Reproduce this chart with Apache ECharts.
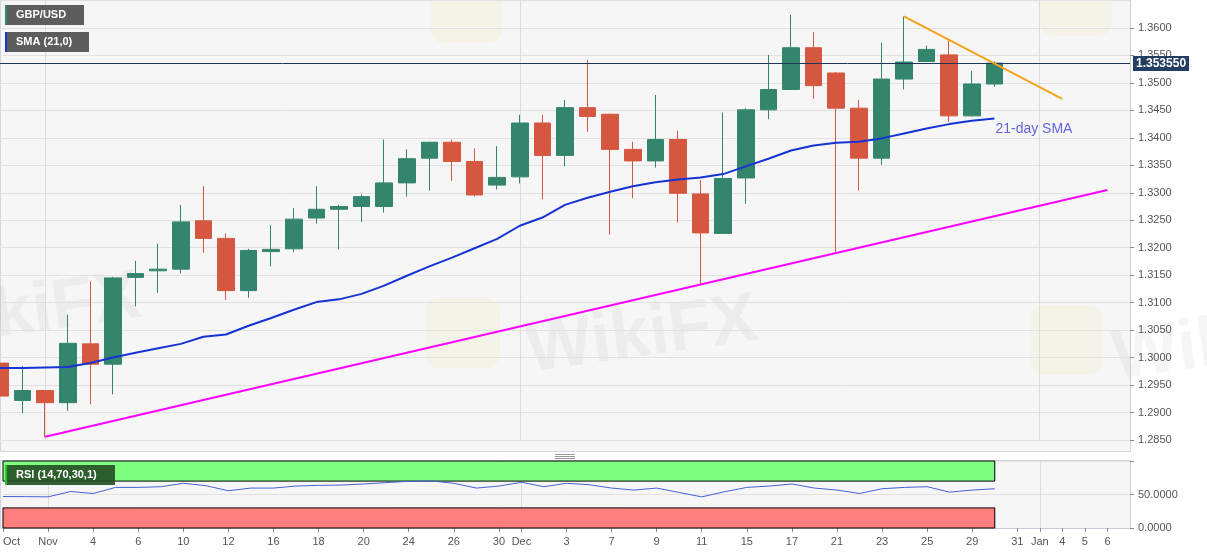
<!DOCTYPE html>
<html>
<head>
<meta charset="utf-8">
<script src="https://cdn.jsdelivr.net/npm/echarts@6/dist/echarts.min.js"></script>
<style>
html,body{margin:0;padding:0;background:#ffffff;}
#c{width:1207px;height:555px;}
</style>
</head>
<body>
<div id="c"></div>
<script>
// ---- data ----
const categories = [
  '2020-10-29','2020-10-30',
  '2020-11-02','2020-11-03','2020-11-04','2020-11-05','2020-11-06',
  '2020-11-09','2020-11-10','2020-11-11','2020-11-12','2020-11-13',
  '2020-11-16','2020-11-17','2020-11-18','2020-11-19','2020-11-20',
  '2020-11-23','2020-11-24','2020-11-25','2020-11-26','2020-11-27',
  '2020-11-30','2020-12-01','2020-12-02','2020-12-03','2020-12-04',
  '2020-12-07','2020-12-08','2020-12-09','2020-12-10','2020-12-11',
  '2020-12-14','2020-12-15','2020-12-16','2020-12-17','2020-12-18',
  '2020-12-21','2020-12-22','2020-12-23','2020-12-24','2020-12-25',
  '2020-12-28','2020-12-29','2020-12-30','2020-12-31',
  '2021-01-01','2021-01-04','2021-01-05','2021-01-06','2021-01-07'
];
const tickIndex = [0,2,4,6,8,10,12,14,16,18,20,22,23,25,27,29,31,33,35,37,39,41,43,45,46,47,48,49];
const tickText  = ['Oct','Nov','4','6','10','12','16','18','20','24','26','30','Dec','3','7','9','11','15','17','21','23','25','29','31','Jan','4','5','6'];
const monthStartIndex = [2, 23, 46];

const open  = [1.2990,1.2922,1.2940,1.2918,1.3025,1.2988,1.3146,1.3158,1.3161,1.3249,
               1.3217,1.3122,1.3193,1.3198,1.3254,1.3270,1.3275,1.3275,1.3318,1.3363,
               1.3392,1.3357,1.3314,1.3329,1.3427,1.3368,1.3455,1.3443,1.3379,1.3358,
               1.3397,1.3298,1.3226,1.3327,1.3451,1.3488,1.3564,1.3518,1.3454,1.3363,
               1.3507,1.3539,1.3551,1.3440,1.3498];
const close = [1.2930,1.2940,1.2918,1.3026,1.2988,1.3145,1.3153,1.3161,1.3247,1.3217,
               1.3122,1.3195,1.3197,1.3252,1.3270,1.3275,1.3293,1.3318,1.3362,1.3392,
               1.3357,1.3296,1.3328,1.3427,1.3368,1.3455,1.3439,1.3379,1.3358,1.3397,
               1.3299,1.3227,1.3326,1.3451,1.3488,1.3564,1.3495,1.3454,1.3363,1.3507,
               1.3538,1.3561,1.3440,1.3498,1.3536];
const low   = [1.2881,1.2899,1.2855,1.2903,1.2915,1.2933,1.3093,1.3118,1.3153,1.3191,
               1.3105,1.3109,1.3166,1.3192,1.3244,1.3197,1.3247,1.3264,1.3293,1.3304,
               1.3322,1.3293,1.3306,1.3317,1.3288,1.3348,1.3411,1.3224,1.3290,1.3346,
               1.3246,1.3134,1.3225,1.3280,1.3434,1.3487,1.3471,1.3190,1.3304,1.3351,
               1.3488,1.3538,1.3429,1.3439,1.3493];
const high  = [1.3027,1.2985,1.2941,1.3078,1.3139,1.3147,1.3176,1.3207,1.3278,1.3312,
               1.3226,1.3198,1.3241,1.3272,1.3312,1.3278,1.3297,1.3397,1.3379,1.3393,
               1.3397,1.3381,1.3385,1.3442,1.3442,1.3469,1.3542,1.3444,1.3393,1.3478,
               1.3413,1.3323,1.3446,1.3454,1.3551,1.3624,1.3593,1.3520,1.3469,1.3573,
               1.3621,1.3568,1.3577,1.3522,1.3539];
const sma21 = [1.2981,1.2981,1.2982,1.2983,1.2990,1.3000,1.3009,1.3017,1.3025,1.3038,
               1.3042,1.3058,1.3072,1.3087,1.3101,1.3106,1.3116,1.3131,1.3149,1.3166,
               1.3182,1.3199,1.3216,1.3240,1.3255,1.3278,1.3291,1.3302,1.3312,1.3319,
               1.3324,1.3328,1.3334,1.3348,1.3362,1.3377,1.3386,1.3391,1.3393,1.3399,
               1.3408,1.3417,1.3425,1.3431,1.3435];
const rsi14 = [47.0,46.8,46.5,54.5,51.5,60.6,60.6,61.6,66.7,63.2,
               55.6,59.6,59.6,62.6,63.6,64.1,65.7,67.7,69.7,70.2,
               66.7,59.6,62.6,68.2,61.6,66.7,64.6,59.6,56.6,59.6,
               53.0,46.5,54.0,60.6,62.6,65.7,59.6,56.6,51.5,58.6,
               60.6,61.6,53.5,56.6,58.6];
const supportIdx = [2, 49];
const supportVal = [1.2856, 1.3305];
const resistanceIdx = [40, 47];
const resistanceVal = [1.3621, 1.3471];
const lastPrice = 1.35355;
const rsiBands = [[70, 100], [0, 30]];

// ---- chart ----
const FONT = '"Liberation Sans", Arial, sans-serif';
const W = 1130;
const chart = echarts.init(document.getElementById('c'), null, {renderer: 'canvas'});

const candleData = open.map((o, i) => [o, close[i], low[i], high[i]]);
const lastIdx = close.length - 1;
const wmFont = 'bold 70px "Liberation Sans", Arial, sans-serif';
const wmColor = 'rgba(90,80,80,0.06)';
const logoColor = 'rgba(235,210,120,0.12)';

const option = {
  animation: false,
  backgroundColor: '#ffffff',
  textStyle: {fontFamily: FONT},
  grid: [
    {left: 0, top: 0.5, width: W, height: 439.5, show: false},
    {left: 0, top: 461, width: W, height: 67, show: false}
  ],
  xAxis: [
    {
      type: 'category', gridIndex: 0, data: categories, boundaryGap: false,
      axisLine: {show: false}, axisTick: {show: false}, axisLabel: {show: false},
      splitLine: {show: true, interval: (i) => monthStartIndex.includes(i), lineStyle: {color: '#dcdcdc', width: 1}}
    },
    {
      type: 'category', gridIndex: 1, data: categories, boundaryGap: false,
      axisLine: {show: true, lineStyle: {color: '#c9ccd6'}},
      axisTick: {show: true, interval: (i) => tickIndex.includes(i), length: 4, lineStyle: {color: '#8a8a8a'}},
      axisLabel: {
        show: true, interval: (i) => tickIndex.includes(i),
        formatter: (v, i) => tickText[tickIndex.indexOf(i)],
        color: '#555', fontSize: 11, margin: 8, fontFamily: FONT, alignMinLabel: 'left'
      },
      splitLine: {show: true, interval: (i) => monthStartIndex.includes(i), lineStyle: {color: '#dcdcdc', width: 1}}
    }
  ],
  yAxis: [
    {
      type: 'value', gridIndex: 0, position: 'right', min: 1.285, max: 1.365, interval: 0.005,
      axisLine: {show: true, lineStyle: {color: '#c9ccd6'}},
      axisTick: {show: true, length: 4, lineStyle: {color: '#8a8a8a'}},
      axisLabel: {formatter: (v) => v.toFixed(4), color: '#555', fontSize: 11, margin: 8, fontFamily: FONT, showMaxLabel: false},
      splitLine: {show: true, lineStyle: {color: '#e1e1e1', width: 1}}
    },
    {
      type: 'value', gridIndex: 1, position: 'right', min: 0, max: 100, interval: 50,
      axisLine: {show: true, lineStyle: {color: '#c9ccd6'}},
      axisTick: {show: true, length: 4, lineStyle: {color: '#8a8a8a'}},
      axisLabel: {formatter: (v) => (v >= 100 ? '' : v.toFixed(4)), color: '#555', fontSize: 11, margin: 8, fontFamily: FONT},
      splitLine: {show: true, lineStyle: {color: '#e1e1e1', width: 1}}
    }
  ],
  series: [
    {
      name: 'GBP/USD', type: 'candlestick', xAxisIndex: 0, yAxisIndex: 0,
      data: candleData, barWidth: 17, z: 3,
      itemStyle: {color: '#33856d', color0: '#d5573f', borderColor: '#33856d', borderColor0: '#d5573f', borderWidth: 1}
    },
    {
      name: 'SMA (21,0)', type: 'line', xAxisIndex: 0, yAxisIndex: 0,
      data: sma21, showSymbol: false, symbol: 'none', z: 4,
      lineStyle: {color: '#1433d2', width: 2},
      endLabel: {
        show: true, formatter: '21-day SMA', color: '#6464dc', fontSize: 14, fontFamily: FONT,
        distance: 0, offset: [1, 11], align: 'left'
      },
      markLine: {
        silent: true, symbol: ['none', 'none'], precision: 6,
        lineStyle: {color: '#1d3557', width: 1, type: 'solid'},
        label: {
          position: 'end', distance: 3, formatter: () => lastPrice.toFixed(6),
          backgroundColor: '#223e62', color: '#ffffff', fontWeight: 'bold', fontSize: 12,
          padding: [2, 3, 1, 3], fontFamily: FONT
        },
        data: [{yAxis: lastPrice}]
      }
    },
    {
      name: 'support', type: 'line', xAxisIndex: 0, yAxisIndex: 0,
      data: supportIdx.map((k, i) => [categories[k], supportVal[i]]),
      showSymbol: false, symbol: 'none', z: 5,
      lineStyle: {color: '#ff00ff', width: 2}
    },
    {
      name: 'resistance', type: 'line', xAxisIndex: 0, yAxisIndex: 0,
      data: resistanceIdx.map((k, i) => [categories[k], resistanceVal[i]]),
      showSymbol: false, symbol: 'none', z: 5,
      lineStyle: {color: '#f5a21c', width: 2}
    },
    {
      name: 'RSI (14,70,30,1)', type: 'line', xAxisIndex: 1, yAxisIndex: 1,
      data: rsi14, showSymbol: false, symbol: 'none', z: 4,
      lineStyle: {color: '#4562d6', width: 1},
      markArea: {
        silent: true,
        data: [
          [{xAxis: categories[0], yAxis: rsiBands[0][0], itemStyle: {color: '#80ff80', borderColor: '#000', borderWidth: 1}},
           {xAxis: categories[lastIdx], yAxis: rsiBands[0][1]}],
          [{xAxis: categories[0], yAxis: rsiBands[1][0], itemStyle: {color: '#ff7f7f', borderColor: '#000', borderWidth: 1}},
           {xAxis: categories[lastIdx], yAxis: rsiBands[1][1]}]
        ]
      }
    }
  ],
  graphic: {
    elements: [
      // panel backgrounds
      {type: 'rect', silent: true, z: -10, shape: {x: 0.5, y: 0.5, width: W, height: 451}, style: {fill: '#f6f6f6', stroke: '#d3d6e2', lineWidth: 1}},
      {type: 'rect', silent: true, z: -10, shape: {x: 0.5, y: 460.5, width: W, height: 68}, style: {fill: '#f6f6f6', stroke: '#d3d6e2', lineWidth: 1}},
      // faint watermarks
      {type: 'rect', silent: true, z: -9, shape: {x: 425, y: 298, width: 75, height: 70, r: 14}, style: {fill: logoColor}},
      {type: 'rect', silent: true, z: -9, shape: {x: 1030, y: 305, width: 72, height: 70, r: 14}, style: {fill: logoColor}},
      {type: 'rect', silent: true, z: -9, shape: {x: 430, y: -25, width: 72, height: 68, r: 14}, style: {fill: logoColor}},
      {type: 'rect', silent: true, z: -9, shape: {x: 1040, y: -30, width: 72, height: 66, r: 14}, style: {fill: logoColor}},
      {type: 'text', silent: true, z: -9, x: 522, y: 318, rotation: 0.14, style: {text: 'WikiFX', font: wmFont, fill: wmColor}},
      {type: 'text', silent: true, z: -9, x: -95, y: 295, rotation: 0.14, style: {text: 'WikiFX', font: wmFont, fill: wmColor}},
      {type: 'text', silent: true, z: -9, x: 1108, y: 325, rotation: 0.14, style: {text: 'WikiFX', font: wmFont, fill: wmColor}},
      // splitter handle
      {type: 'line', silent: true, shape: {x1: 555, y1: 454.5, x2: 575, y2: 454.5}, style: {stroke: '#999', lineWidth: 1}},
      {type: 'line', silent: true, shape: {x1: 555, y1: 456.5, x2: 575, y2: 456.5}, style: {stroke: '#999', lineWidth: 1}},
      {type: 'line', silent: true, shape: {x1: 555, y1: 458.5, x2: 575, y2: 458.5}, style: {stroke: '#999', lineWidth: 1}},
      // legend boxes
      {type: 'rect', silent: true, z: 100, shape: {x: 5, y: 5, width: 79, height: 20}, style: {fill: '#5d5d5d'}},
      {type: 'rect', silent: true, z: 101, shape: {x: 5, y: 5, width: 2, height: 20}, style: {fill: '#2f8a6e'}},
      {type: 'text', silent: true, z: 101, x: 16, y: 15, style: {text: 'GBP/USD', fill: '#ffffff', font: 'bold 11px "Liberation Sans", Arial, sans-serif', verticalAlign: 'middle'}},
      {type: 'rect', silent: true, z: 100, shape: {x: 5, y: 32, width: 84, height: 20}, style: {fill: '#5d5d5d'}},
      {type: 'rect', silent: true, z: 101, shape: {x: 5, y: 32, width: 2, height: 20}, style: {fill: '#1a35c8'}},
      {type: 'text', silent: true, z: 101, x: 16, y: 42, style: {text: 'SMA (21,0)', fill: '#ffffff', font: 'bold 11px "Liberation Sans", Arial, sans-serif', verticalAlign: 'middle'}},
      {type: 'rect', silent: true, z: 100, shape: {x: 5, y: 465, width: 110, height: 20}, style: {fill: 'rgba(38,80,38,0.92)'}},
      {type: 'rect', silent: true, z: 101, shape: {x: 5, y: 465, width: 2, height: 20}, style: {fill: '#22cc22'}},
      {type: 'text', silent: true, z: 101, x: 16, y: 475, style: {text: 'RSI (14,70,30,1)', fill: '#ffffff', font: 'bold 11px "Liberation Sans", Arial, sans-serif', verticalAlign: 'middle'}}
    ]
  }
};
chart.setOption(option);
</script>
</body>
</html>
